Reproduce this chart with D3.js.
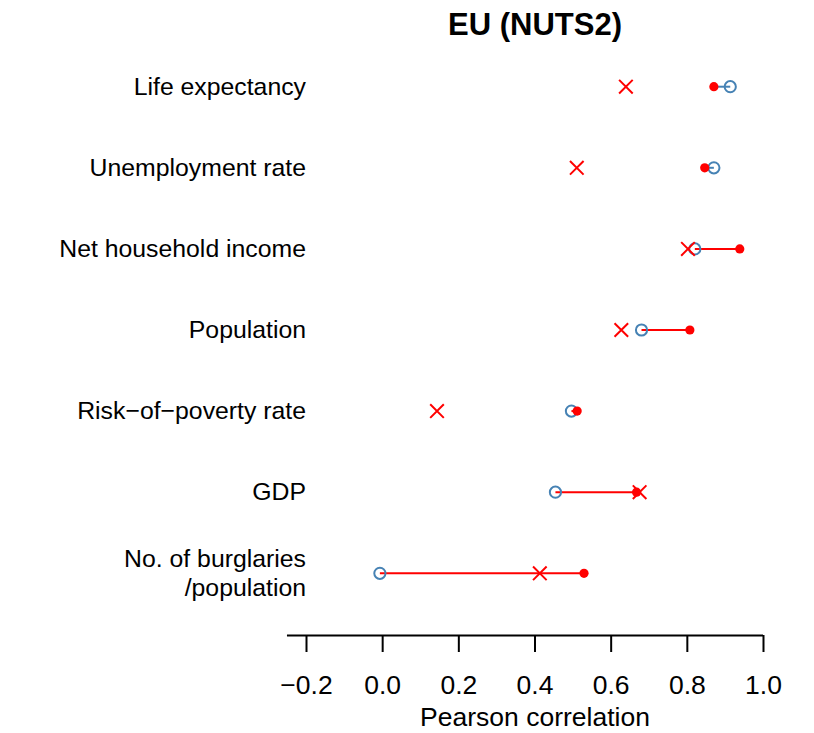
<!DOCTYPE html>
<html>
<head>
<meta charset="utf-8">
<script src="https://cdn.jsdelivr.net/npm/d3@7"></script>
<style>
  html, body { margin: 0; padding: 0; background: #fff; }
  svg { display: block; font-family: "Liberation Sans", Arial, Helvetica, sans-serif; }
</style>
</head>
<body>
<svg id="chart" width="814" height="733"></svg>
<script>
// ---- data ----
const categories = [
  ["Life expectancy"],
  ["Unemployment rate"],
  ["Net household income"],
  ["Population"],
  ["Risk\u2212of\u2212poverty rate"],
  ["GDP"],
  ["No. of burglaries", "/population"]
];
const crossValues  = [0.640, 0.511, 0.803, 0.628, 0.144, 0.676, 0.414];   // red X
const dotValues    = [0.871, 0.847, 0.939, 0.808, 0.512, 0.668, 0.530];   // red filled dot
const circleValues = [0.914, 0.871, 0.821, 0.681, 0.497, 0.455, -0.006]; // blue open circle
const tickValues = [-0.2, 0.0, 0.2, 0.4, 0.6, 0.8, 1.0];
const tickLabels = ["\u22120.2", "0.0", "0.2", "0.4", "0.6", "0.8", "1.0"];
const title = "EU (NUTS2)";
const xTitle = "Pearson correlation";

// ---- layout ----
const svg = d3.select("#chart");
const red = "#FF0000", blue = "#4682B4";

const x = d3.scaleLinear().domain([-0.2, 1.0]).range([306, 763]);
const y = d3.scalePoint().domain(d3.range(categories.length)).range([86.7, 573.3]);

const rows = categories.map((c, i) => ({
  i, label: c, cross: crossValues[i], dot: dotValues[i], circ: circleValues[i]
}));

// title
svg.append("text").attr("x", 535).attr("y", 35)
  .attr("text-anchor", "middle").attr("font-size", 31).attr("font-weight", "bold")
  .text(title);

// category labels
rows.forEach(r => {
  const t = svg.append("text").attr("text-anchor", "end").attr("font-size", 24.8).attr("fill", "#000");
  const n = r.label.length;
  r.label.forEach((line, k) => {
    t.append("tspan").attr("x", 306)
      .attr("y", y(r.i) + 8 + (k - (n - 1) / 2) * 29.5)
      .text(line);
  });
});

// connecting segments (circle -> dot)
svg.append("g").selectAll("line").data(rows).join("line")
  .attr("x1", d => x(d.circ)).attr("x2", d => x(d.dot))
  .attr("y1", d => y(d.i)).attr("y2", d => y(d.i))
  .attr("stroke", d => d.dot >= d.circ ? red : blue)
  .attr("stroke-width", 2);

// blue open circles
svg.append("g").selectAll("circle").data(rows).join("circle")
  .attr("cx", d => x(d.circ)).attr("cy", d => y(d.i)).attr("r", 5.6)
  .attr("fill", "none").attr("stroke", blue).attr("stroke-width", 2);

// red filled dots
svg.append("g").selectAll("circle").data(rows).join("circle")
  .attr("cx", d => x(d.dot)).attr("cy", d => y(d.i)).attr("r", 4.6)
  .attr("fill", red);

// red crosses
const s = 6.8;
svg.append("g").selectAll("path").data(rows).join("path")
  .attr("d", d => {
    const cx = x(d.cross), cy = y(d.i);
    return `M${cx - s},${cy - s}L${cx + s},${cy + s}M${cx - s},${cy + s}L${cx + s},${cy - s}`;
  })
  .attr("stroke", red).attr("stroke-width", 2).attr("fill", "none");

// x axis
const axis = d3.axisBottom(x).tickValues(tickValues)
  .tickFormat((d, i) => tickLabels[i]).tickSize(17).tickPadding(23).tickSizeOuter(0);
const gx = svg.append("g").attr("transform", "translate(0,635)").call(axis);
gx.select(".domain").attr("d", `M${x(-0.25)},0.5H${x(1.0)}`).attr("stroke", "#000").attr("stroke-width", 2);
gx.selectAll(".tick line").attr("stroke", "#000").attr("stroke-width", 2);
gx.selectAll(".tick text").attr("font-size", 26.5).attr("fill", "#000")
  .attr("font-family", "Liberation Sans, Arial, sans-serif");

// x title
svg.append("text").attr("x", 535).attr("y", 726)
  .attr("text-anchor", "middle").attr("font-size", 26.5).text(xTitle);
</script>
</body>
</html>
